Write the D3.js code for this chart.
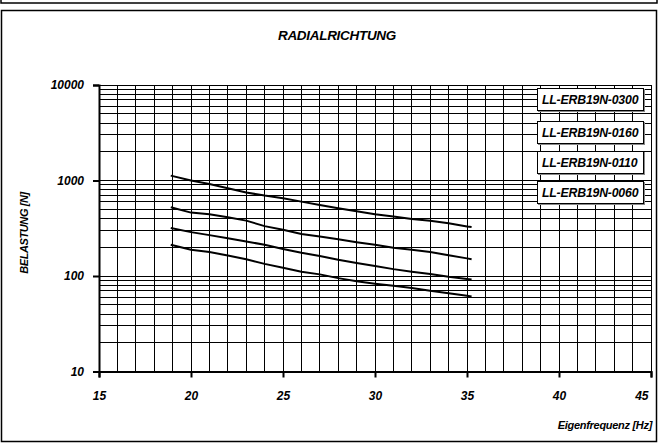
<!DOCTYPE html>
<html>
<head>
<meta charset="utf-8">
<script src="https://cdn.jsdelivr.net/npm/d3@7"></script>
<style>
  body { margin: 0; background: #fff; }
  svg { display: block; font-family: "Liberation Sans", Arial, sans-serif; }
  text { font-weight: bold; font-style: italic; fill: #000; }
</style>
</head>
<body>
<svg id="chart" width="659" height="444"></svg>
<script>
var width = 659,
    height = 444;

// frequencies [Hz] at which the curves were read
var freq = [18.9, 20, 21, 22, 23, 24, 25, 26, 27, 28, 29, 30, 31, 32, 33, 34, 35, 35.25];

// load [N] per type
var load0300 = [1124, 1000, 920, 830, 750, 695, 652, 601, 555, 513, 477, 443, 419, 396, 378, 357, 330, 325];
var load0160 = [525, 461, 444, 413, 380, 333, 305, 276, 259, 243, 226, 212, 198, 188, 178, 165, 153, 150];
var load0110 = [318, 288, 268, 248, 230, 212, 192, 175, 162, 148, 137, 127, 118, 111, 105, 98, 93, 92];
var load0060 = [212, 188, 178, 164, 150, 134, 122, 111, 104, 95, 88, 83, 79, 75, 70, 66, 62, 61];

var seriesNames = ["LL-ERB19N-0300", "LL-ERB19N-0160", "LL-ERB19N-0110", "LL-ERB19N-0060"];
var series = [load0300, load0160, load0110, load0060];

var xTicks = [15, 20, 25, 30, 35, 40, 45];
var yTicks = [10, 100, 1000, 10000];

var plot = {left: 99, right: 651, top: 85, bottom: 371.5};

var svg = d3.select("#chart");

// frames
svg.append("rect")
    .attr("x", 1).attr("y", -10)
    .attr("width", 656).attr("height", 13)
    .attr("fill", "none").attr("stroke", "#000").attr("stroke-width", 1.5);

svg.append("rect")
    .attr("x", 1.5).attr("y", 10.5)
    .attr("width", 655).attr("height", 431)
    .attr("fill", "none").attr("stroke", "#000").attr("stroke-width", 1.5);

var x = d3.scaleLinear()
    .domain([15, 45])
    .range([plot.left, plot.right]);

var y = d3.scaleLog()
    .domain([10, 10000])
    .range([plot.bottom, plot.top]);

// grid
var grid = svg.append("g")
    .attr("shape-rendering", "crispEdges")
    .attr("stroke", "#000")
    .attr("stroke-width", 1);

grid.selectAll(".vgrid")
    .data(d3.range(16, 46))
    .enter().append("line")
    .attr("class", "vgrid")
    .attr("x1", function(d) { return x(d); })
    .attr("x2", function(d) { return x(d); })
    .attr("y1", plot.top)
    .attr("y2", plot.bottom);

var yGridValues = [];
[10, 100, 1000].forEach(function(dec) {
  for (var k = 2; k <= 10; k++) yGridValues.push(dec * k);
});

grid.selectAll(".hgrid")
    .data(yGridValues)
    .enter().append("line")
    .attr("class", "hgrid")
    .attr("x1", plot.left)
    .attr("x2", plot.right)
    .attr("y1", function(d) { return y(d); })
    .attr("y2", function(d) { return y(d); });

// axes
var xAxis = d3.axisBottom(x)
    .tickValues(xTicks)
    .tickSize(6)
    .tickPadding(10)
    .tickFormat(d3.format("d"));

var yAxis = d3.axisLeft(y)
    .tickValues(yTicks)
    .tickSize(6)
    .tickPadding(9)
    .tickFormat(d3.format("d"));

var gx = svg.append("g")
    .attr("transform", "translate(0," + plot.bottom + ")")
    .call(xAxis);

var gy = svg.append("g")
    .attr("transform", "translate(" + plot.left + ",0)")
    .call(yAxis);

[gx, gy].forEach(function(g) {
  g.select(".domain").attr("stroke", "#000").attr("stroke-width", 2);
  g.selectAll(".tick line").attr("stroke", "#000").attr("stroke-width", 2);
  g.selectAll(".tick text")
    .attr("font-size", 12)
    .attr("font-family", "Liberation Sans, Arial, sans-serif")
    .style("font-weight", "bold")
    .style("font-style", "italic");
});
gx.selectAll(".tick text").attr("dy", "1em");
// last label kept inside the frame
gx.selectAll(".tick text")
  .filter(function(d) { return d === 45; })
    .attr("text-anchor", "end")
    .attr("x", -3);

// curves
var line = d3.line()
    .x(function(d, i) { return x(freq[i]); })
    .y(function(d) { return y(d); });

svg.append("g")
  .selectAll("path")
  .data(series)
  .enter().append("path")
    .attr("d", line)
    .attr("fill", "none")
    .attr("stroke", "#000")
    .attr("stroke-width", 2);

// legend boxes
var boxTop = [88, 121, 151, 181];
var legend = svg.append("g")
  .selectAll("g")
  .data(seriesNames)
  .enter().append("g")
    .attr("transform", function(d, i) { return "translate(537," + boxTop[i] + ")"; });

legend.append("rect")
    .attr("x", 1).attr("y", 1)
    .attr("width", 107).attr("height", 23)
    .attr("fill", "#888");

legend.append("rect")
    .attr("x", 0.5).attr("y", 0.5)
    .attr("width", 106).attr("height", 22)
    .attr("fill", "#fff")
    .attr("stroke", "#000")
    .attr("stroke-width", 1);

legend.append("text")
    .attr("x", 5)
    .attr("y", 16)
    .attr("font-size", 12.3)
    .attr("letter-spacing", -0.2)
    .text(function(d) { return d; });

// titles
svg.append("text")
    .attr("x", 337)
    .attr("y", 40)
    .attr("text-anchor", "middle")
    .attr("font-size", 13.5)
    .attr("letter-spacing", -0.3)
    .text("RADIALRICHTUNG");

svg.append("text")
    .attr("transform", "translate(28,233) rotate(-90)")
    .attr("text-anchor", "middle")
    .attr("font-size", 11)
    .attr("letter-spacing", -0.4)
    .text("BELASTUNG [N]");

svg.append("text")
    .attr("x", 652)
    .attr("y", 429)
    .attr("text-anchor", "end")
    .attr("font-size", 11)
    .attr("letter-spacing", -0.3)
    .text("Eigenfrequenz [Hz]");
</script>
</body>
</html>
